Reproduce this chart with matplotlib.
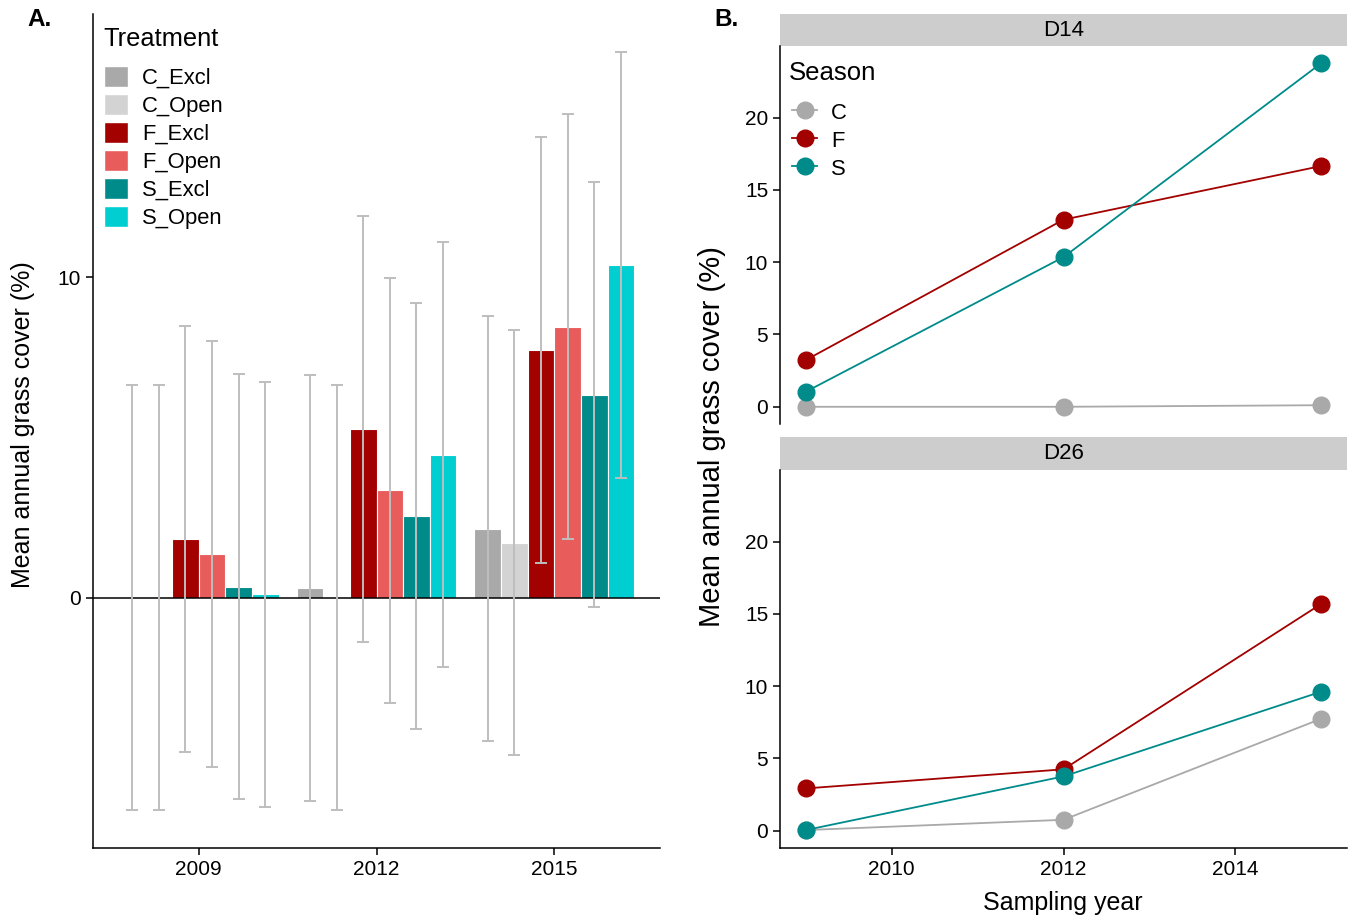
import numpy as np
import matplotlib
matplotlib.use("Agg")
import matplotlib.pyplot as plt
from matplotlib.patches import Patch
from matplotlib.lines import Line2D

plt.rcParams['font.family'] = ['Liberation Sans', 'DejaVu Sans']

# panel A: mean cover per treatment and year, with a common CI half-width
years_a = [2009, 2012, 2015]
treatments = ["C_Excl", "C_Open", "F_Excl", "F_Open", "S_Excl", "S_Open"]
treat_colors = ["#A9A9A9", "#D3D3D3", "#A30000", "#E85C5C", "#008B8B", "#00CED1"]
cover_2009 = [0.0, 0.0, 1.83, 1.37, 0.35, 0.11]
cover_2012 = [0.31, 0.0, 5.26, 3.35, 2.55, 4.46]
cover_2015 = [2.16, 1.72, 7.73, 8.45, 6.33, 10.38]
ci_half = 6.63

# panel B: mean cover per season, by site
years_b = [2009, 2012, 2015]
seasons = ["C", "F", "S"]
season_colors = ["#A9A9A9", "#A30000", "#008B8B"]
d14 = {"C": [0.0, 0.0, 0.11], "F": [3.23, 12.94, 16.65], "S": [1.04, 10.35, 23.76]}
d26 = {"C": [0.05, 0.76, 7.75], "F": [2.93, 4.25, 15.69], "S": [0.05, 3.76, 9.62]}

W, H = 1351, 917
fig = plt.figure(figsize=(W / 100, H / 100), dpi=100)

def px_axes(x0, y0, x1, y1):
    return fig.add_axes([x0 / W, 1 - y1 / H, (x1 - x0) / W, (y1 - y0) / H])

def fx(x):
    return x / W

def fy(y):
    return 1 - y / H

lw_axis = 1.1
tick_fs = 15
leg_fs = 15.8
title_fs = 18

# ---- A ----
ax = px_axes(93, 14, 660, 848)
cover = np.array([cover_2009, cover_2012, cover_2015])
bw = 0.45
offsets = (np.arange(len(treatments)) - (len(treatments) - 1) / 2) * bw
for i, t in enumerate(treatments):
    xs = np.array(years_a) + offsets[i]
    ax.bar(xs, cover[:, i], width=bw, color=treat_colors[i], edgecolor="white",
           linewidth=0.8, label=t, zorder=2)
ax.axhline(0, color="black", lw=1.1, zorder=3)
for i, t in enumerate(treatments):
    xs = np.array(years_a) + offsets[i]
    ax.errorbar(xs, cover[:, i], yerr=ci_half, fmt="none", ecolor="#BEBEBE",
                elinewidth=1.4, capsize=4.3, capthick=1.4, zorder=4)
ax.set_xlim(2007.215, 2016.785)
ax.set_ylim(-7.8, 18.2)
ax.set_xticks(years_a)
ax.set_yticks([0, 10])
for s in ["top", "right"]:
    ax.spines[s].set_visible(False)
for s in ["left", "bottom"]:
    ax.spines[s].set_linewidth(lw_axis)
ax.tick_params(labelsize=tick_fs, width=lw_axis, length=5, colors="black")
fig.text(fx(23), fy(425), "Mean annual grass cover (%)", rotation=90,
         ha="center", va="center", fontsize=title_fs)

fig.text(fx(103), fy(39), "Treatment", ha="left", va="center", fontsize=18.3)
handles = [Patch(facecolor=c, edgecolor="white", label=t) for t, c in zip(treatments, treat_colors)]
ax.legend(handles=handles, loc="upper left",
          bbox_to_anchor=(fx(104), fy(66)), bbox_transform=fig.transFigure,
          frameon=False, fontsize=leg_fs,
          handlelength=1.1, handleheight=1.1, labelspacing=0.23,
          handletextpad=0.64, borderpad=0, borderaxespad=0)

# ---- B ----
panels = [("D14", d14, 14, 46, 424), ("D26", d26, 437, 470, 848)]
axes_b = []
for name, data, ys, y0, y1 in panels:
    strip = px_axes(780, ys, 1347, y0)
    strip.set_facecolor("#CDCDCD")
    strip.set_xticks([])
    strip.set_yticks([])
    for s in strip.spines.values():
        s.set_visible(False)
    strip.text(0.5, 0.5, name, ha="center", va="center", fontsize=16,
               transform=strip.transAxes)
    axb = px_axes(780, y0, 1347, y1)
    for se, c in zip(seasons, season_colors):
        axb.plot(years_b, data[se], color=c, lw=1.3, marker="o", ms=12,
                 label=se, zorder=3)
    axb.set_xlim(2008.7, 2015.3)
    axb.set_ylim(-1.19, 24.95)
    axb.set_yticks([0, 5, 10, 15, 20])
    axb.set_xticks([2010, 2012, 2014])
    for s in ["top", "right"]:
        axb.spines[s].set_visible(False)
    for s in ["left", "bottom"]:
        axb.spines[s].set_linewidth(lw_axis)
    axb.tick_params(labelsize=tick_fs, width=lw_axis, length=5, colors="black")
    axes_b.append(axb)

top, bot = axes_b
top.spines["bottom"].set_visible(False)
top.tick_params(axis="x", bottom=False, labelbottom=False)
fig.text(fx(1063), fy(903), "Sampling year", ha="center", va="center", fontsize=title_fs)
fig.text(fx(712), fy(437), "Mean annual grass cover (%)", rotation=90,
         ha="center", va="center", fontsize=21)

fig.text(fx(789), fy(73), "Season", ha="left", va="center", fontsize=18.5)
season_handles = [Line2D([0], [0], color=c, lw=1.3, marker="o", ms=12, label=s)
                  for s, c in zip(seasons, season_colors)]
top.legend(handles=season_handles, loc="upper left",
           bbox_to_anchor=(fx(792), fy(101)), bbox_transform=fig.transFigure,
           frameon=False, fontsize=leg_fs,
           handlelength=1.15, handleheight=1.1, labelspacing=0.23,
           handletextpad=0.64, borderpad=0, borderaxespad=0)

fig.text(fx(40), fy(20), "A.", fontsize=17.5, fontweight="bold", ha="center", va="center")
fig.text(fx(727), fy(20), "B.", fontsize=17.5, fontweight="bold", ha="center", va="center")

fig.savefig("out.png", dpi=100)
